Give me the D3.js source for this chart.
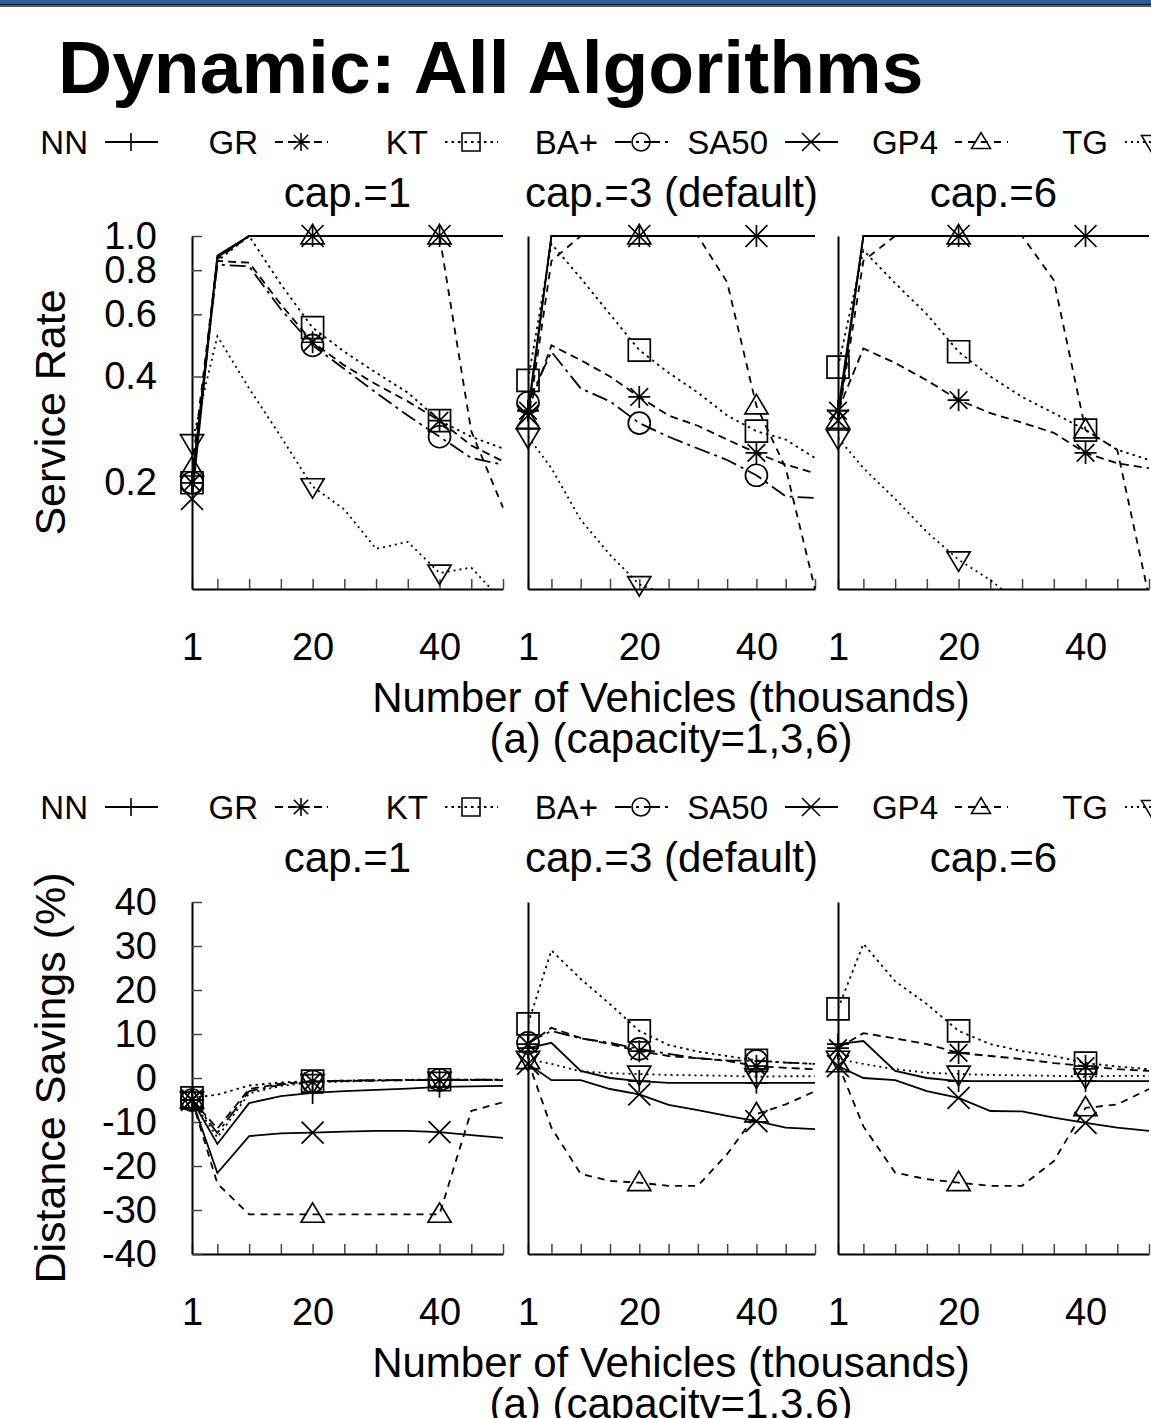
<!DOCTYPE html>
<html>
<head>
<meta charset="utf-8">
<script src="https://cdn.jsdelivr.net/npm/d3@7"></script>
<style>
  body { margin: 0; background: #fff; }
  svg { display: block; }
  text { font-family: "Liberation Sans", Arial, Helvetica, sans-serif; fill: #000; }
</style>
</head>
<body>
<svg width="1151" height="1418"></svg>
<script>
// x values (thousands of vehicles) and where markers are drawn
var xs = [1, 5, 10, 15, 20, 25, 30, 35, 40, 45, 50];
var markAt = [1, 20, 40];
var xLabels = [1, 20, 40];
var algos = ["NN", "GR", "KT", "BA+", "SA50", "GP4", "TG"];
var capTitles = ["cap.=1", "cap.=3 (default)", "cap.=6"];
var rateTicks = [0.2, 0.4, 0.6, 0.8, 1.0];
var savingTicks = [-40, -30, -20, -10, 0, 10, 20, 30, 40];

// Service rate, one array per algorithm (order of algos), per capacity
var rateCap1 = [
  [0.20, 0.87, 1, 1, 1, 1, 1, 1, 1, 1, 1],
  [0.20, 0.85, 0.84, 0.64, 0.50, 0.43, 0.38, 0.34, 0.30, 0.255, 0.23],
  [0.20, 0.85, 1.0, 0.73, 0.55, 0.47, 0.41, 0.36, 0.30, 0.27, 0.25],
  [0.20, 0.83, 0.82, 0.62, 0.49, 0.42, 0.36, 0.31, 0.27, 0.235, 0.225],
  [0.18, 0.88, 1, 1, 1, 1, 1, 1, 1, 1, 1],
  [0.22, 0.86, 1, 1, 1, 1, 1, 1, 1, 0.28, 0.17],
  [0.26, 0.52, 0.37, 0.27, 0.195, 0.168, 0.13, 0.136, 0.111, 0.115, 0.092]
];
var rateCap3 = [
  [0.32, 1, 1, 1, 1, 1, 1, 1, 1, 1, 1],
  [0.32, 0.49, 0.445, 0.40, 0.35, 0.31, 0.29, 0.265, 0.243, 0.225, 0.213],
  [0.39, 0.95, 0.76, 0.60, 0.475, 0.41, 0.36, 0.31, 0.28, 0.265, 0.235],
  [0.337, 0.47, 0.37, 0.34, 0.295, 0.27, 0.25, 0.232, 0.21, 0.183, 0.181],
  [0.31, 1, 1, 1, 1, 1, 1, 1, 1, 1, 1],
  [0.30, 0.85, 1, 1, 1, 1, 1, 0.74, 0.33, 0.22, 0.10],
  [0.27, 0.22, 0.157, 0.125, 0.103, 0.096, 0.09, 0.085, 0.08, 0.075, 0.07]
];
var rateCap6 = [
  [0.32, 1, 1, 1, 1, 1, 1, 1, 1, 1, 1],
  [0.32, 0.48, 0.437, 0.39, 0.343, 0.315, 0.296, 0.277, 0.243, 0.227, 0.22],
  [0.425, 0.91, 0.735, 0.60, 0.47, 0.40, 0.35, 0.315, 0.282, 0.248, 0.232],
  null,
  [0.30, 1, 1, 1, 1, 1, 1, 1, 1, 1, 1],
  [0.30, 0.85, 1, 1, 1, 1, 1, 0.75, 0.282, 0.248, 0.095],
  [0.268, 0.22, 0.18, 0.145, 0.121, 0.106, 0.09, 0.085, 0.08, 0.075, 0.07]
];

// Distance savings (%)
var saveCap1 = [
  [-5, -15, -5.7, -4.1, -3.4, -3.0, -2.7, -2.4, -2.0, -1.9, -1.8],
  [-5, -11.5, -2.5, -1.3, -0.8, -0.7, -0.6, -0.5, -0.5, -0.5, -0.5],
  [-4.5, -3.8, -1.7, -1.0, -0.7, -0.6, -0.5, -0.4, -0.4, -0.4, -0.4],
  [-5, -12.5, -3, -1.5, -0.8, -0.6, -0.5, -0.5, -0.4, -0.4, -0.4],
  [-5, -21.6, -13.2, -12.6, -12.4, -12.2, -12.0, -12.0, -12.3, -13.0, -13.6],
  [-5, -24, -31, -31, -31, -31, -31, -31, -31, -7.5, -5.5],
  [-5, -13.5, -3.5, -1.8, -1.0, -0.8, -0.6, -0.5, -0.5, -0.5, -0.5]
];
var saveCap3 = [
  [6.8, 8, 1.6, 0, -0.7, -1.1, -1.1, -1.1, -1.1, -1.1, -1.1],
  [7.7, 11.4, 9.1, 7.7, 6.1, 5.0, 4.5, 3.9, 2.7, 2.3, 2.0],
  [12.3, 29, 22.5, 16.8, 10.7, 7.5, 6, 5, 4, 3.5, 3.2],
  [8, 10.7, 9, 8, 6.6, 5.5, 4.5, 4, 3.9, 3.5, 3.2],
  [3.2, -0.5, -0.5, -2.5, -3.7, -6.1, -7.3, -8.6, -9.8, -11.3, -11.6],
  [3.9, -11.3, -21.8, -23.4, -23.8, -24.5, -24.5, -17.3, -8.2, -6, -3],
  [4.3, 3.2, 1.5, 1.1, 0.9, 0.7, 0.6, 0.5, 0.3, 0.4, 0.4]
];
var saveCap6 = [
  [7.7, 8.4, 1.6, 0, -0.7, -0.7, -0.7, -0.7, -0.7, -0.7, -0.7],
  [6.8, 10.2, 9, 7.7, 5.7, 5.0, 4.3, 3.4, 2.7, 2.0, 1.6],
  [15.7, 30.5, 22, 16.8, 10.7, 7.7, 6.1, 5, 3.4, 2.6, 2.0],
  null,
  [2.7, 0, -0.5, -3, -4.5, -7.5, -7.6, -9, -10.2, -11.3, -12],
  [3.2, -11, -21.5, -23, -23.8, -24.5, -24.5, -18.9, -6.8, -6, -2.5],
  [4.3, 3.2, 2, 1.2, 0.9, 0.7, 0.6, 0.5, 0.3, 0.5, 0.5]
];

// line style + point type for each algorithm (gnuplot look)
var dashes = ["none", "8,5", "2.5,4", "16,5,3,5", "none", "7,6", "2,4"];
var points = ["plus", "star", "square", "circle", "cross", "triUp", "triDown"];

var svg = d3.select("svg");

// slide header band
svg.append("rect").attr("x", 0).attr("y", 0).attr("width", 1151).attr("height", 4).attr("fill", "#2c5c95");
svg.append("rect").attr("x", 0).attr("y", 4).attr("width", 1151).attr("height", 1).attr("fill", "#101820");
svg.append("rect").attr("x", 0).attr("y", 5).attr("width", 1151).attr("height", 2).attr("fill", "#5a5a5a");

svg.append("text")
    .attr("x", 58).attr("y", 93)
    .style("font-size", "75px")
    .style("font-weight", "bold")
    .text("Dynamic: All Algorithms");

function markerPath(type, h) {
    var t = h * 1.05;
    switch (type) {
        case "plus": return "M" + (-h) + ",0H" + h + "M0," + (-h) + "V" + h;
        case "cross": return "M" + (-h) + "," + (-h) + "L" + h + "," + h + "M" + (-h) + "," + h + "L" + h + "," + (-h);
        case "star": return markerPath("plus", h) + markerPath("cross", h * 0.8);
        case "square": return "M" + (-h) + "," + (-h) + "H" + h + "V" + h + "H" + (-h) + "Z";
        case "circle": return "M" + h + ",0A" + h + "," + h + " 0 1,1 " + (-h) + ",0A" + h + "," + h + " 0 1,1 " + h + ",0";
        case "triUp": return "M0," + (-t) + "L" + t + "," + (t * 0.68) + "L" + (-t) + "," + (t * 0.68) + "Z";
        case "triDown": return "M0," + t + "L" + t + "," + (-t * 0.68) + "L" + (-t) + "," + (-t * 0.68) + "Z";
    }
}

var panelX = [[192, 503], [528, 815], [838, 1149]];
var rows = [
    {off: 0, top: 236, bottom: 589, log: true, data: [rateCap1, rateCap3, rateCap6],
     ticks: rateTicks, fmt: d3.format(".1f"), label: "Service Rate"},
    {off: 665, top: 902, bottom: 1254, log: false, data: [saveCap1, saveCap3, saveCap6],
     ticks: savingTicks, fmt: function (d) { return String(d); }, label: "Distance Savings (%)"}
];

rows.forEach(function (row, ri) {
    var g = svg.append("g");

    // legend
    algos.forEach(function (name, i) {
        var tx = 88 + 170 * i, cy = 142 + row.off;
        g.append("text")
            .attr("x", tx).attr("y", cy + 12)
            .attr("text-anchor", "end")
            .style("font-size", "33px")
            .text(name);
        g.append("line")
            .attr("x1", tx + 17).attr("x2", tx + 70)
            .attr("y1", cy).attr("y2", cy)
            .attr("stroke", "#000").attr("stroke-width", 1.8)
            .attr("stroke-dasharray", dashes[i]);
        g.append("path")
            .attr("transform", "translate(" + (tx + 43) + "," + cy + ")")
            .attr("d", markerPath(points[i], 9))
            .attr("fill", "none").attr("stroke", "#000").attr("stroke-width", 1.6);
    });

    // y-axis title
    g.append("text")
        .attr("transform", "translate(65," + ((row.top + row.bottom) / 2) + ") rotate(-90)")
        .attr("text-anchor", "middle")
        .style("font-size", "43px")
        .text(row.label);

    // x-axis title lines
    g.append("text")
        .attr("x", 671).attr("y", 712 + row.off)
        .attr("text-anchor", "middle")
        .style("font-size", "42px")
        .text("Number of Vehicles (thousands)");
    g.append("text")
        .attr("x", 671).attr("y", 753 + row.off)
        .attr("text-anchor", "middle")
        .style("font-size", "42px")
        .text("(a) (capacity=1,3,6)");

    panelX.forEach(function (px, pi) {
        var x = d3.scaleLinear().domain([1, 50]).range(px);
        var y = row.log
            ? d3.scaleLog().domain([0.1, 1]).range([row.bottom, row.top])
            : d3.scaleLinear().domain([-40, 40]).range([row.bottom, row.top]);
        var inDomain = function (v) { return v >= y.domain()[0] && v <= y.domain()[1]; };

        var p = g.append("g");

        // panel title
        p.append("text")
            .attr("x", (px[0] + px[1]) / 2).attr("y", 207 + row.off)
            .attr("text-anchor", "middle")
            .style("font-size", "42px")
            .text(capTitles[pi]);

        // x axis
        var xAxis = p.append("g")
            .attr("transform", "translate(0," + row.bottom + ")")
            .call(d3.axisBottom(x)
                .tickValues(d3.range(1, 51, 1).filter(function (d) { return d === 1 || d % 5 === 0; }))
                .tickSizeInner(-10).tickSizeOuter(0).tickPadding(44)
                .tickFormat(function (d) { return xLabels.indexOf(d) >= 0 ? d : ""; }));
        xAxis.select(".domain").attr("stroke", "#000").attr("stroke-width", 2);
        xAxis.selectAll(".tick line").attr("stroke", "#444").attr("stroke-width", 1.5);
        xAxis.selectAll(".tick text")
            .style("font-size", "38px")
            .style("font-family", "'Liberation Sans', Arial, sans-serif")
            .attr("fill", "#000");

        // y axis
        var yAxisGen = d3.axisLeft(y).tickSizeOuter(0);
        if (pi === 0) {
            yAxisGen.tickValues(row.ticks).tickSizeInner(-10).tickPadding(35).tickFormat(row.fmt);
        } else {
            yAxisGen.tickValues([]);
        }
        var yAxis = p.append("g")
            .attr("transform", "translate(" + px[0] + ",0)")
            .call(yAxisGen);
        yAxis.select(".domain").attr("stroke", "#000").attr("stroke-width", 2);
        yAxis.selectAll(".tick line").attr("stroke", "#444").attr("stroke-width", 1.5);
        yAxis.selectAll(".tick text")
            .style("font-size", "38px")
            .style("font-family", "'Liberation Sans', Arial, sans-serif")
            .attr("fill", "#000");

        // clip for the curves
        var clipId = "clip-" + ri + "-" + pi;
        p.append("clipPath").attr("id", clipId)
            .append("rect")
            .attr("x", px[0]).attr("y", row.top - 10)
            .attr("width", px[1] - px[0] + 2).attr("height", row.bottom - row.top + 10);

        var line = d3.line()
            .x(function (d) { return x(d[0]); })
            .y(function (d) { return y(Math.max(d[1], row.log ? 0.05 : -60)); });

        var series = row.data[pi];
        series.forEach(function (vals, ai) {
            if (!vals) return;
            var pts = xs.map(function (xv, k) { return [xv, vals[k]]; });
            p.append("path")
                .datum(pts)
                .attr("clip-path", "url(#" + clipId + ")")
                .attr("d", line)
                .attr("fill", "none")
                .attr("stroke", "#000")
                .attr("stroke-width", 1.8)
                .attr("stroke-dasharray", dashes[ai]);

            p.selectAll(null)
                .data(pts.filter(function (d) { return markAt.indexOf(d[0]) >= 0 && inDomain(d[1]); }))
                .enter()
                .append("path")
                .attr("transform", function (d) { return "translate(" + x(d[0]) + "," + y(d[1]) + ")"; })
                .attr("d", markerPath(points[ai], 11))
                .attr("fill", "none")
                .attr("stroke", "#000")
                .attr("stroke-width", 1.7);
        });
    });
});
</script>
</body>
</html>
